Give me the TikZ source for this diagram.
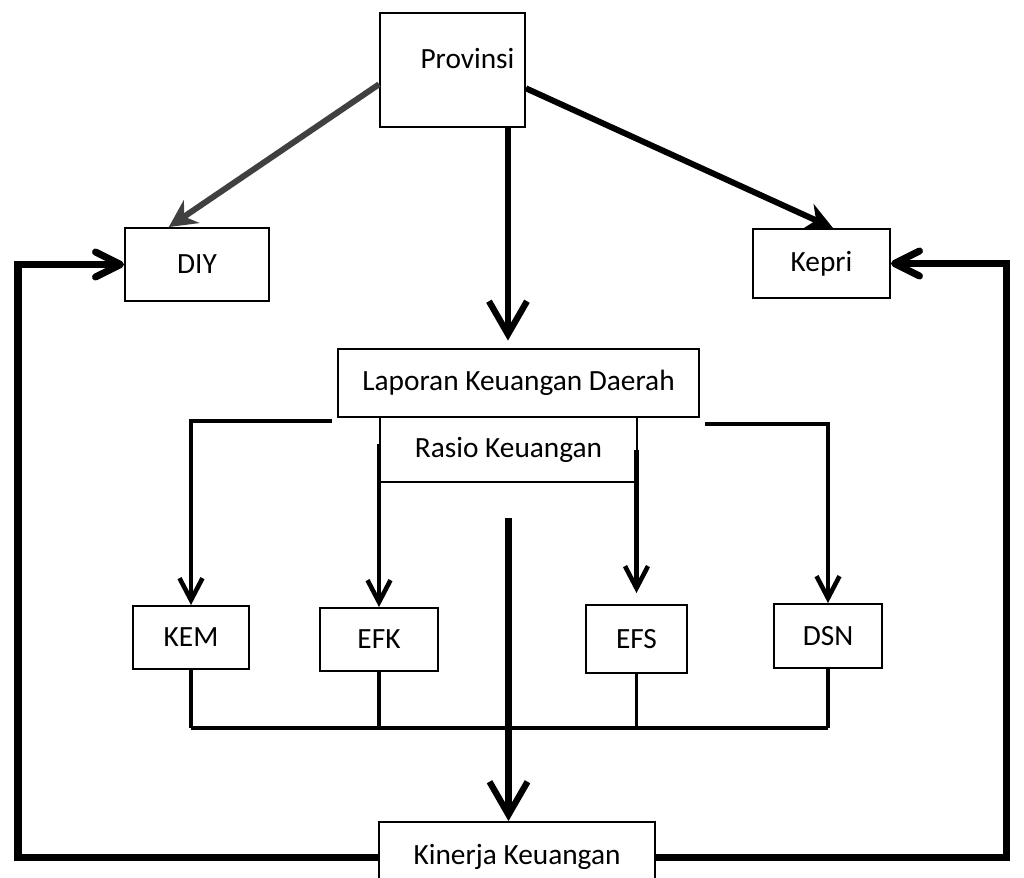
\documentclass[tikz,border=0pt]{standalone}
\usepackage{fontspec}
\setmainfont{Carlito}
\usetikzlibrary{arrows.meta}
\definecolor{arrowgray}{HTML}{404040}
\newcommand\boxfont{\fontsize{16.7}{20}\selectfont}

\begin{document}
\begin{tikzpicture}[x=0.02cm, y=-0.02cm,
  box/.style={draw, line width=1.1pt, inner sep=0pt, font=\boxfont},
  big/.style={line width=3.6pt, -{Straight Barb[length=0.66cm, width=0.76cm]}},
  diag/.style={line width=3.4pt, -{Stealth[length=0.55cm, width=0.55cm]}},
  branch/.style={line width=2.6pt, -{Straight Barb[length=0.44cm, width=0.46cm]}},
  backline/.style={line width=4pt, -{Straight Barb[round, length=0.5cm, width=0.5cm]}},
  bus/.style={line width=1.8pt}]
  \useasboundingbox (0,0) rectangle (1024,877);

  \node[box, minimum width=2.9cm, minimum height=2.28cm,
    label={[font=\boxfont, xshift=0.3cm, yshift=0.22cm]center:Provinsi}] (prov) at (452.5,70) {};
  \node[box, minimum width=2.88cm, minimum height=1.46cm] (diy) at (197,264.5) {DIY};
  \node[box, minimum width=2.74cm, minimum height=1.38cm] (kep) at (821.5,263.5) {Kepri};
  \node[box, minimum width=7.22cm, minimum height=1.36cm] (lap) at (518.5,383) {Laporan Keuangan Daerah};
  \node[box, minimum width=5.14cm, minimum height=1.3cm] (rat) at (508.5,449.5) {Rasio Keuangan};
  \node[box, minimum width=2.32cm, minimum height=1.26cm] (kem) at (191,637.5) {KEM};
  \node[box, minimum width=2.36cm, minimum height=1.26cm] (efk) at (379,639.5) {EFK};
  \node[box, minimum width=2.02cm, minimum height=1.36cm] (efs) at (636.5,639) {EFS};
  \node[box, minimum width=2.16cm, minimum height=1.28cm] (dsn) at (828,636) {DSN};
  \node[box, minimum width=5.52cm, minimum height=1.4cm] (kin) at (517,857) {Kinerja Keuangan};

  % from Provinsi
  \draw[diag, arrowgray] (prov.191) -- (diy.127);
  \draw[diag] (prov.-14) -- (kep.72);
  \coordinate (pdown) at ([xshift=-0.36cm]prov.south east);
  \draw[big, shorten >=0.15cm] (pdown) -- (pdown |- lap.north);

  % ratios
  \draw[branch] ([xshift=-0.1cm, yshift=-0.06cm]lap.south west) -| (kem.north);
  \draw[branch] ([yshift=0.12cm]efk.north |- rat.west) -- (efk.north);
  \draw[branch, shorten >=0.22cm] (efs.north |- rat.east) -- (efs.north);
  \draw[branch] ([xshift=0.1cm, yshift=-0.12cm]lap.south east) -| (dsn.north);

  \coordinate (cdown) at ([yshift=-0.7cm]rat.south);
  \draw[big] (cdown) -- (cdown |- kin.north);

  % join below the ratios
  \coordinate (bus) at (0,728);
  \foreach \n in {kem,efk,efs,dsn}
    \draw[bus] (\n.south) -- (\n.south |- bus);
  \draw[bus] (kem.south |- bus) -- (dsn.south |- bus);

  % back to the provinces
  \coordinate (lft) at (18,0);
  \coordinate (rgt) at (1006,0);
  \draw[backline] (kin.west) -| (lft |- diy.west) -- (diy.west);
  \draw[backline] (kin.east) -| (rgt |- kep.east) -- (kep.east);
\end{tikzpicture}
\end{document}
